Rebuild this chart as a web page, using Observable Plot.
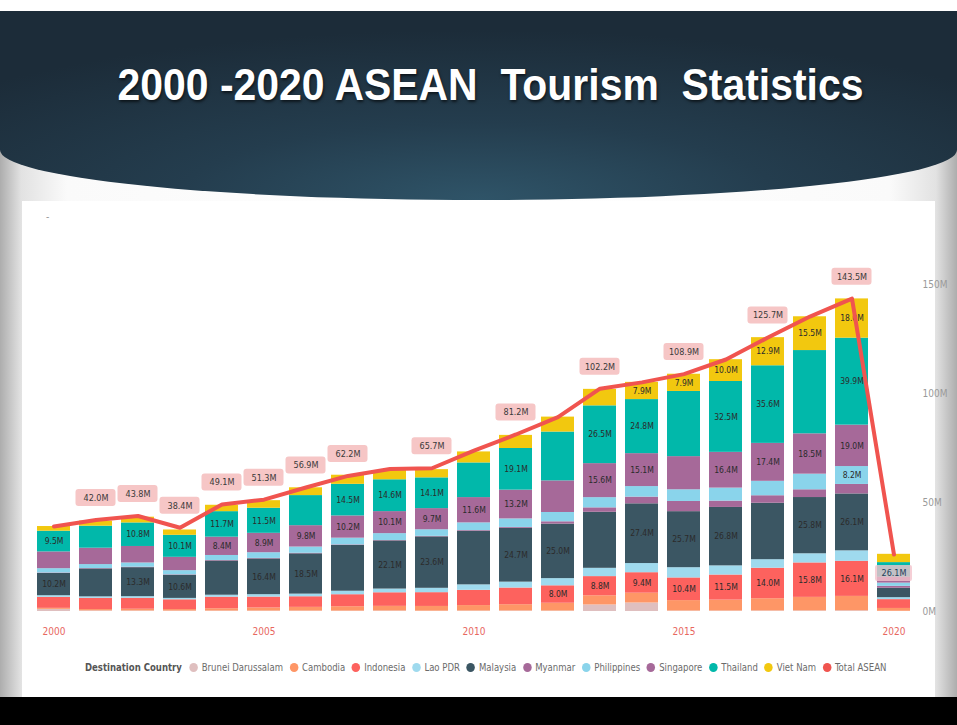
<!DOCTYPE html>
<html><head><meta charset="utf-8">
<script src="https://cdn.jsdelivr.net/npm/d3@7"></script>
<script src="https://cdn.jsdelivr.net/npm/@observablehq/plot@0.6"></script>
<style>
body{margin:0;width:957px;height:725px;overflow:hidden;position:relative;
 background:linear-gradient(to right,#adadad 0%,#e2e2e2 2.2%,#fafafa 7%,#fff 50%,#fafafa 93%,#e2e2e2 97.8%,#adadad 100%);}
#topstrip{position:absolute;left:0;top:0;width:957px;height:11px;background:#fff}
#header{position:absolute;left:0;top:11px;width:957px;height:189px;
 background:radial-gradient(ellipse 70% 90% at 50% 100%,#2f5468 0%,#243d4e 45%,#1c2c39 100%);
 border-radius:0 0 50% 50% / 0 0 50px 50px;}
#title{position:absolute;left:12px;top:63px;width:957px;text-align:center;color:#fff;
 font:bold 44px/44px "Liberation Sans",Arial,sans-serif;text-shadow:1px 2px 3px rgba(0,0,0,.6);
 transform:scaleX(0.93);transform-origin:50% 50%;white-space:pre}
#panel{position:absolute;left:22px;top:201px;width:913px;height:496px;background:#fff}
#dash{position:absolute;left:46px;top:211px;color:#999;font:10px sans-serif}
#chart{position:absolute;left:0;top:230px}
#legend{position:absolute;left:85px;top:662px;display:flex;align-items:center;white-space:nowrap;
 font:10px "Liberation Sans Narrow","DejaVu Sans Condensed","Roboto Condensed",Roboto,sans-serif;color:#6b6b6b;transform-origin:0 50%}
#legend .hd{color:#555;font-weight:bold;margin-right:8px}
#legend .it{display:flex;align-items:center;margin-right:7px}
#legend .dot{width:9px;height:9px;border-radius:50%;margin-right:4px;display:inline-block}
#bottom{position:absolute;left:0;top:697px;width:957px;height:28px;background:#000}
</style></head>
<body>
<div id="topstrip"></div>
<div id="header"></div>
<div id="title">2000 -2020 ASEAN  Tourism  Statistics</div>
<div id="panel"></div>
<div id="dash">-</div>
<div id="chart"></div>
<div id="legend"></div>
<div id="bottom"></div>
<script>
const years = [2000,2001,2002,2003,2004,2005,2006,2007,2008,2009,2010,2011,2012,2013,2014,2015,2016,2017,2018,2019,2020];
const countries = ["Brunei Darussalam","Cambodia","Indonesia","Lao PDR","Malaysia","Myanmar","Philippines","Singapore","Thailand","Viet Nam"];
const colors = ["#DFBFBF","#FE9666","#FD625E","#9FDAEE","#3B5663","#A66999","#8AD4EB","#A66999","#01B8AA","#F2C80F"];
const totalColor = "#F0544F";

// arrivals, millions
const brunei      = [0.98,0.30,0.25,0.20,0.20,0.20,0.20,0.18,0.23,0.16,0.21,0.24,0.21,3.00,3.90,0.22,0.22,0.26,0.28,0.33,0.10];
const cambodia    = [0.47,0.60,0.79,0.70,1.06,1.42,1.70,2.02,2.13,2.16,2.51,2.88,3.58,4.21,4.50,4.78,5.01,5.60,6.20,6.60,1.30];
const indonesia   = [5.06,5.15,5.03,4.47,5.32,5.00,4.87,5.50,6.23,6.32,7.00,7.65,8.00,8.80,9.40,10.4,11.5,14.0,15.8,16.1,4.05];
const laoPDR      = [0.74,0.67,0.74,0.64,0.89,1.10,1.20,1.60,1.70,2.00,2.50,2.70,3.30,3.80,4.20,4.70,4.20,3.90,4.20,4.80,0.90];
const malaysia    = [10.2,12.8,13.3,10.6,15.7,16.4,18.5,21.0,22.1,23.6,24.6,24.7,25.0,25.7,27.4,25.7,26.8,25.9,25.8,26.1,4.30];
const myanmar     = [0.21,0.20,0.22,0.21,0.24,0.23,0.26,0.25,0.19,0.24,0.31,0.39,1.06,2.04,3.08,4.68,2.91,3.44,3.55,4.36,0.90];
const philippines = [1.99,1.80,1.93,1.91,2.29,2.62,2.84,3.09,3.14,3.02,3.52,3.92,4.27,4.68,4.83,5.36,5.97,6.62,7.17,8.20,1.48];
const singapore   = [7.69,7.52,7.57,6.13,8.40,8.90,9.80,10.2,10.1,9.70,11.6,13.2,14.5,15.6,15.1,15.2,16.4,17.4,18.5,19.0,2.70];
const thailand    = [9.50,10.1,10.8,10.1,11.7,11.5,13.8,14.5,14.6,14.1,15.9,19.1,22.4,26.5,24.8,29.9,32.5,35.6,38.2,39.9,6.70];
const vietNam     = [2.14,2.33,2.63,2.43,2.93,3.47,3.58,4.17,4.25,3.77,5.05,6.01,6.85,7.57,7.90,7.90,10.0,12.9,15.5,18.0,3.80];
const totalASEAN  = [39.0,42.0,43.8,38.4,49.1,51.3,56.9,62.2,65.4,65.7,73.8,81.2,89.2,102.2,105.1,108.9,115.6,125.7,135.3,143.5,26.1];

// years whose segment / total carries a data label in the original
const indonesiaLabelYears   = [2012,2013,2014,2015,2016,2017,2018,2019];
const malaysiaLabelYears    = [2000,2002,2003,2005,2006,2008,2009,2011,2012,2014,2015,2016,2018,2019];
const philippinesLabelYears = [2019];
const singaporeLabelYears   = [2004,2005,2006,2007,2008,2009,2010,2011,2013,2014,2016,2017,2018,2019];
const thailandLabelYears    = [2000,2002,2003,2004,2005,2007,2008,2009,2011,2013,2014,2016,2017,2019];
const vietNamLabelYears     = [2014,2015,2016,2017,2018,2019];
const totalLabelYears       = [2001,2002,2003,2004,2005,2006,2007,2009,2011,2013,2015,2017,2019,2020];

const xTicks = [2000,2005,2010,2015,2020];
const yTicks = [0,50,100,150];

const series = [brunei,cambodia,indonesia,laoPDR,malaysia,myanmar,philippines,singapore,thailand,vietNam];
const labelYears = {"Indonesia":indonesiaLabelYears,"Malaysia":malaysiaLabelYears,"Philippines":philippinesLabelYears,
  "Singapore":singaporeLabelYears,"Thailand":thailandLabelYears,"Viet Nam":vietNamLabelYears};

const rows = [];
years.forEach((yr, i) => countries.forEach((c, k) => rows.push({year: yr, country: c, value: series[k][i],
  labeled: (labelYears[c] || []).includes(yr)})));
const totals = years.map((yr, i) => ({year: yr, total: totalASEAN[i], labeled: totalLabelYears.includes(yr)}));
const fmt = v => v.toFixed(1) + "M";
const narrow = '"Liberation Sans Narrow","DejaVu Sans Condensed","Roboto Condensed",Roboto,sans-serif';

const totLabelsUp = totals.filter(d => d.labeled && d.year !== 2020);
const totLabelsDown = totals.filter(d => d.labeled && d.year === 2020);

const chart = Plot.plot({
  width: 957, height: 420,
  marginLeft: 31, marginRight: 41, marginTop: 54, marginBottom: 39,
  style: {background: "transparent", fontFamily: narrow},
  x: {type: "band", domain: years, paddingInner: 0.22, paddingOuter: 0.11},
  y: {domain: [0, 150]},
  color: {domain: countries, range: colors},
  marks: [
    Plot.barY(rows, {x: "year", y: "value", fill: "country", order: countries}),
    Plot.text(rows, Plot.stackY({x: "year", y: "value", z: "country", order: countries,
      text: d => d.labeled ? fmt(d.value) : null, fill: "#2b2b2b", fontSize: 8.5})),
    Plot.line(totals, {x: "year", y: "total", stroke: totalColor, strokeWidth: 4, strokeLinejoin: "round"}),
    Plot.barY(totLabelsUp, {x: "year", y1: "total", y2: "total", dy: -22, insetTop: -8.5, insetBottom: -8.5,
      insetLeft: -3.5, insetRight: -3.5, fill: "#F6C6C6", rx: 3}),
    Plot.text(totLabelsUp, {x: "year", y: "total", dy: -22, text: d => fmt(d.total), fill: "#3a3a3a", fontSize: 9}),
    Plot.barY(totLabelsDown, {x: "year", y1: "total", y2: "total", dy: 19, insetTop: -8, insetBottom: -8,
      insetLeft: -2, insetRight: -2, fill: "#F3C3CC", fillOpacity: 0.8, rx: 2}),
    Plot.text(totLabelsDown, {x: "year", y: "total", dy: 19, text: d => fmt(d.total), fill: "#24405a", fontSize: 9}),
    Plot.axisX({ticks: xTicks, tickSize: 0, tickPadding: 16, tickFormat: d => String(d), fill: "#E8685F", fontSize: 10, label: null}),
    Plot.axisY({anchor: "right", ticks: yTicks, tickSize: 0, tickPadding: 6, tickFormat: d => d + "M", fill: "#9a9a9a", fontSize: 10, label: null})
  ]
});
document.getElementById("chart").appendChild(chart);

// legend
const lg = document.getElementById("legend");
const hd = document.createElement("span"); hd.className = "hd"; hd.textContent = "Destination Country"; lg.appendChild(hd);
countries.concat(["Total ASEAN"]).forEach((c, k) => {
  const it = document.createElement("span"); it.className = "it";
  const dot = document.createElement("span"); dot.className = "dot";
  dot.style.background = k < colors.length ? colors[k] : totalColor;
  it.appendChild(dot); it.appendChild(document.createTextNode(c)); lg.appendChild(it);
});
const w = lg.getBoundingClientRect().width;
lg.style.transform = `scaleX(${808 / w})`;
</script>
</body></html>
